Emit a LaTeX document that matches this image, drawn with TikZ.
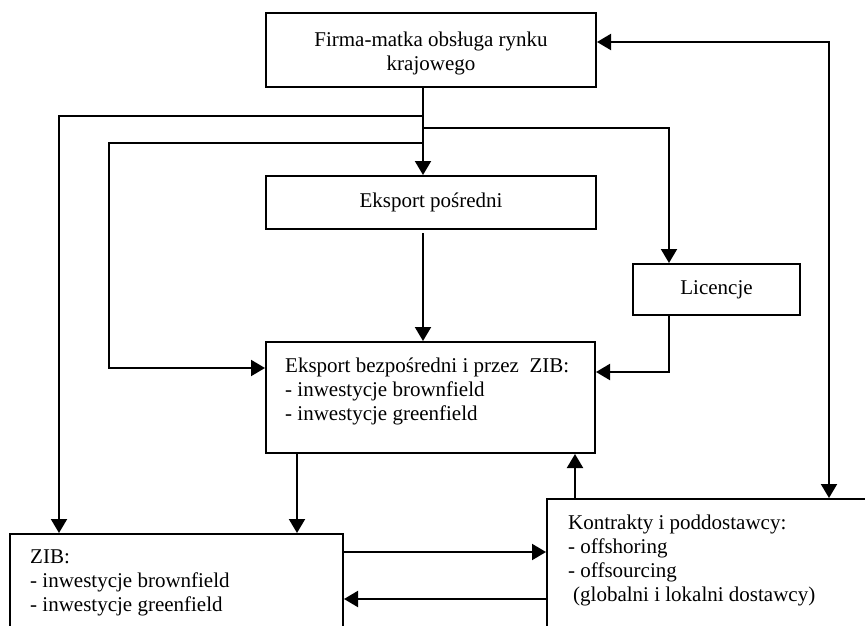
\documentclass[tikz,border=0pt]{standalone}
\usepackage{fontspec}
\setmainfont{Liberation Serif}
\usetikzlibrary{arrows.meta}
\begin{document}
\begin{tikzpicture}[x=1pt,y=-1pt,
  box/.style={draw, line width=2pt, rectangle, inner sep=0pt,
    font=\fontsize{21}{24}\selectfont, align=center},
  txt/.style={inner sep=0pt, align=left, anchor=north west,
    font=\fontsize{21}{24}\selectfont},
  tip/.style={-{Triangle[length=14pt,width=16pt]}},
  arr/.style={line width=2pt, tip},
  dbl/.style={line width=2pt, {Triangle[length=14pt,width=16pt]}-{Triangle[length=14pt,width=16pt]}}]
\clip (0,0) rectangle (865,626);
\fill[white] (0,0) rectangle (865,626);

% boxes
\node[box, minimum width=330pt, minimum height=74pt] (firma) at (431,50)
  {\rule{0pt}{21pt}Firma-matka obsługa rynku\\krajowego};
\node[box, minimum width=330pt, minimum height=53pt] (posr) at (431,202.5)
  {Eksport pośredni};
\node[box, minimum width=167pt, minimum height=51pt] (lic) at (716.5,289.5)
  {Licencje};
\node[box, minimum width=329pt, minimum height=111pt] (bezp) at (430.5,397.5) {};
\node[box, minimum width=333pt, minimum height=130pt] (zib) at (176.5,599) {};
\node[box, minimum width=343pt, minimum height=160pt] (kon) at (718.5,579) {};

% box texts
\node[txt] (bezpt) at ([xshift=20pt,yshift=-17pt]bezp.north west)
  {Eksport bezpośredni i przez\ \ ZIB:\\- inwestycje brownfield\\- inwestycje greenfield};
\node[txt] (zibt) at ([xshift=21pt,yshift=-17pt]zib.north west)
  {ZIB:\\- inwestycje brownfield\\- inwestycje greenfield};
\node[txt] (kont) at ([xshift=22pt,yshift=-17pt]kon.north west)
  {Kontrakty i poddostawcy:\\- offshoring\\- offsourcing\\\hspace*{5pt}(globalni i lokalni dostawcy)};

% routing points
\coordinate (tx) at (423,0);
\coordinate (j1) at (423,116);
\coordinate (j3) at (423,128);
\coordinate (j2) at (423,143);
\coordinate (k2) at (109,143);
\coordinate (ps) at (423,233);
\coordinate (lx) at (59,0);
\coordinate (rx) at (669,0);
\coordinate (dx) at (297,0);
\coordinate (ux) at (575,0);
\coordinate (fx) at (829,0);
\coordinate (a1) at ([yshift=-19pt]zib.north east);
\coordinate (a2) at ([yshift=-101pt]kon.north west);
\coordinate (a3) at ([yshift=-30pt]firma.north east);

% connectors
\draw[arr] (firma.south -| tx) -- (posr.north -| tx);
\draw[arr] (j1) -| (zib.north -| lx);
\draw[arr] (j2) -- (k2) |- ([yshift=-27pt]bezp.north west);
\draw[arr] (j3) -| (lic.north -| rx);
\draw[arr] (ps) -- (bezp.north -| tx);
\draw[arr] (lic.south -| rx) |- ([yshift=-31pt]bezp.north east);
\draw[arr] (bezp.south -| dx) -- (zib.north -| dx);
\draw[arr] (kon.north -| ux) -- (bezp.south -| ux);
\draw[arr] (a1) -- (a1 -| kon.west);
\draw[arr] (a2) -- (a2 -| zib.east);
\draw[dbl] (a3) -| (kon.north -| fx);
\end{tikzpicture}
\end{document}
